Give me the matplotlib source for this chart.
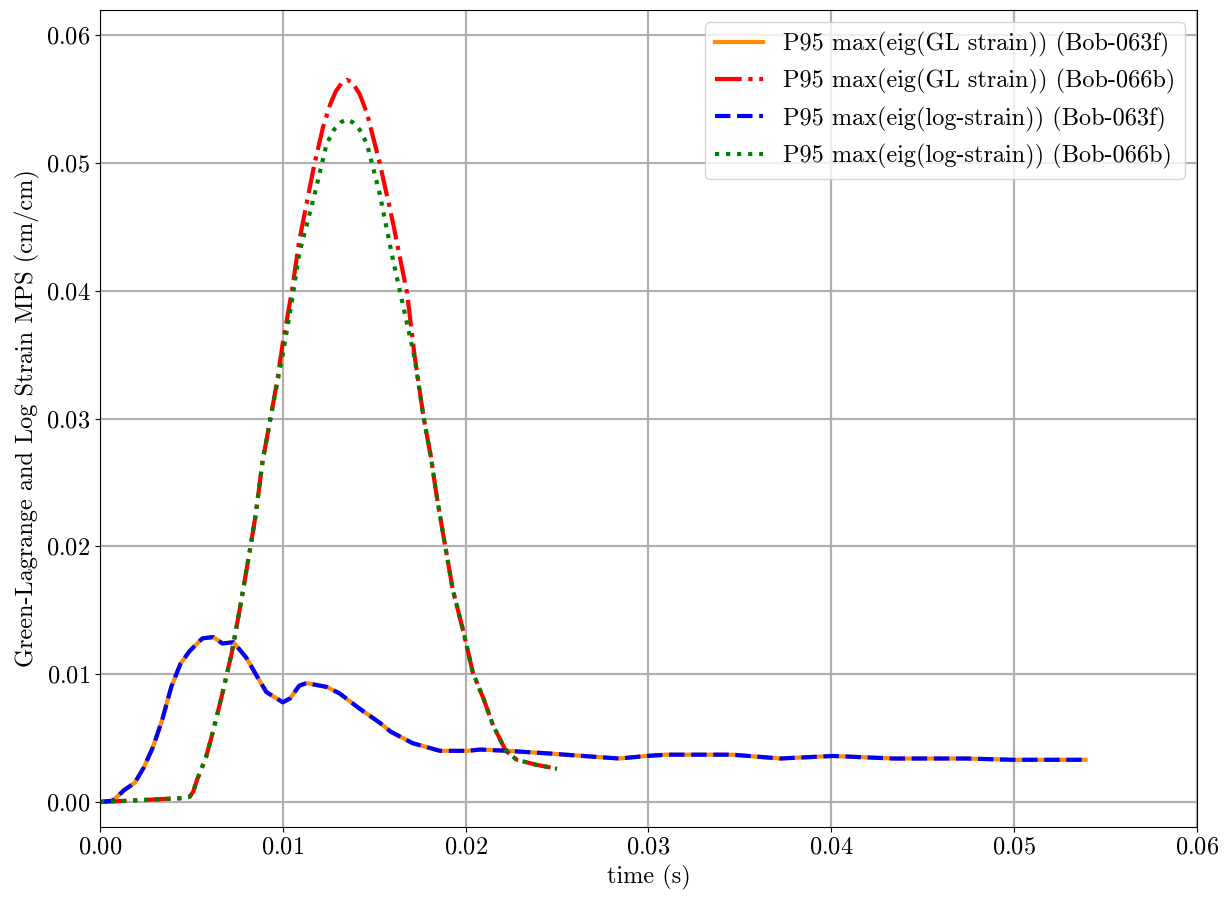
import matplotlib
matplotlib.use("Agg")
import matplotlib.pyplot as plt

plt.rcParams["font.family"] = "serif"
plt.rcParams["font.serif"] = ["cmr10"]
plt.rcParams["mathtext.fontset"] = "cm"
plt.rcParams["axes.formatter.use_mathtext"] = True
plt.rcParams["font.size"] = 17.5

# Bob-063f (GL and log strain nearly identical)
t_063f = [0.0, 0.0007, 0.0013, 0.0019, 0.0024, 0.0029, 0.0034, 0.0039, 0.0044,
          0.0049, 0.0056, 0.0062, 0.0067, 0.0073, 0.0080, 0.0086, 0.0091, 0.0100,
          0.0104, 0.0109, 0.0113, 0.0124, 0.0131, 0.0142, 0.0153, 0.0159, 0.0171,
          0.0186, 0.0201, 0.0208, 0.0223, 0.0245, 0.0274, 0.0284, 0.0299, 0.0310,
          0.0346, 0.0372, 0.0401, 0.0434, 0.0474, 0.0499, 0.0539]
gl_063f = [0.0, 0.0001, 0.0009, 0.0015, 0.0027, 0.0043, 0.0064, 0.0090, 0.0108,
           0.0118, 0.0128, 0.0129, 0.0124, 0.0125, 0.0113, 0.0098, 0.0086, 0.0078,
           0.0081, 0.0091, 0.0093, 0.0090, 0.0085, 0.0073, 0.0062, 0.0055, 0.0046,
           0.0040, 0.0040, 0.0041, 0.0040, 0.0038, 0.0035, 0.0034, 0.0036, 0.0037,
           0.0037, 0.0034, 0.0036, 0.0034, 0.0034, 0.0033, 0.0033]
log_063f = [0.0, 0.0001, 0.0009, 0.0015, 0.0027, 0.0043, 0.0064, 0.0090, 0.0108,
            0.0118, 0.0128, 0.0129, 0.0124, 0.0125, 0.0113, 0.0098, 0.0086, 0.0078,
            0.0081, 0.0091, 0.0093, 0.0090, 0.0085, 0.0073, 0.0062, 0.0055, 0.0046,
            0.0040, 0.0040, 0.0041, 0.0040, 0.0038, 0.0035, 0.0034, 0.0036, 0.0037,
            0.0037, 0.0034, 0.0036, 0.0034, 0.0034, 0.0033, 0.0033]

# Bob-066b
t_gl_066b = [0.0, 0.0016, 0.0030, 0.0045, 0.0049, 0.0051, 0.0053, 0.0058, 0.0062,
             0.0067, 0.0072, 0.0077, 0.0082, 0.0085, 0.0089, 0.0093, 0.0097, 0.0100,
             0.0105, 0.0109, 0.0117, 0.0122, 0.0126, 0.0129, 0.0132, 0.0135, 0.0138,
             0.0142, 0.0146, 0.0153, 0.0160, 0.0168, 0.0172, 0.0177, 0.0181, 0.0184,
             0.0188, 0.0193, 0.0199, 0.0204, 0.0210, 0.0215, 0.0222, 0.0228, 0.0239,
             0.0250]
gl_066b = [0.0, 0.0001, 0.0002, 0.0003, 0.0004, 0.0008, 0.0017, 0.0035, 0.0056,
           0.0085, 0.0116, 0.0155, 0.0197, 0.0223, 0.0267, 0.0298, 0.0330, 0.0359,
           0.0400, 0.0439, 0.0497, 0.0528, 0.0546, 0.0556, 0.0562, 0.0565, 0.0563,
           0.0554, 0.0539, 0.0500, 0.0455, 0.0398, 0.0350, 0.0301, 0.0270, 0.0241,
           0.0207, 0.0166, 0.0132, 0.0101, 0.0080, 0.0060, 0.0040, 0.0033, 0.0029,
           0.0026]
t_log_066b = [0.0, 0.0016, 0.0030, 0.0045, 0.0049, 0.0051, 0.0053, 0.0058, 0.0062,
              0.0067, 0.0072, 0.0077, 0.0082, 0.0085, 0.0089, 0.0093, 0.0097, 0.0100,
              0.0105, 0.0109, 0.0117, 0.0124, 0.0128, 0.0132, 0.0135, 0.0138, 0.0142,
              0.0146, 0.0153, 0.0160, 0.0168, 0.0172, 0.0177, 0.0181, 0.0184, 0.0188,
              0.0193, 0.0199, 0.0204, 0.0210, 0.0215, 0.0222, 0.0228, 0.0239, 0.0250]
log_066b = [0.0, 0.0001, 0.0002, 0.0003, 0.0004, 0.0008, 0.0017, 0.0035, 0.0056,
            0.0085, 0.0116, 0.0155, 0.0197, 0.0223, 0.0267, 0.0298, 0.0328, 0.0350,
            0.0392, 0.0429, 0.0473, 0.0515, 0.0526, 0.0532, 0.0534, 0.0532, 0.0526,
            0.0515, 0.0476, 0.0426, 0.0374, 0.0348, 0.0301, 0.0270, 0.0241, 0.0207,
            0.0166, 0.0132, 0.0101, 0.0080, 0.0060, 0.0040, 0.0033, 0.0029, 0.0026]

fig = plt.figure(figsize=(12.28, 9.01), dpi=100)
ax = fig.add_axes([0.0814, 0.0821, 0.8933, 0.9068])

lw = 3.0
ax.plot(t_063f, gl_063f, color="darkorange", ls="-", lw=lw,
        label="P95 max(eig(GL strain)) (Bob-063f)")
ax.plot(t_gl_066b, gl_066b, color="red", ls="-.", lw=lw,
        label="P95 max(eig(GL strain)) (Bob-066b)")
ax.plot(t_063f, log_063f, color="blue", ls="--", lw=lw,
        label="P95 max(eig(log-strain)) (Bob-063f)")
ax.plot(t_log_066b, log_066b, color="green", ls=":", lw=lw,
        label="P95 max(eig(log-strain)) (Bob-066b)")

ax.set_xlim(0, 0.06)
ax.set_ylim(-0.00196, 0.06196)
ax.grid(True, color="#b0b0b0", lw=1.6)
ax.set_xlabel("time (s)")
ax.set_ylabel("Green-Lagrange and Log Strain MPS (cm/cm)")
ax.legend(loc="upper right")

fig.savefig("out.png", dpi=100)
